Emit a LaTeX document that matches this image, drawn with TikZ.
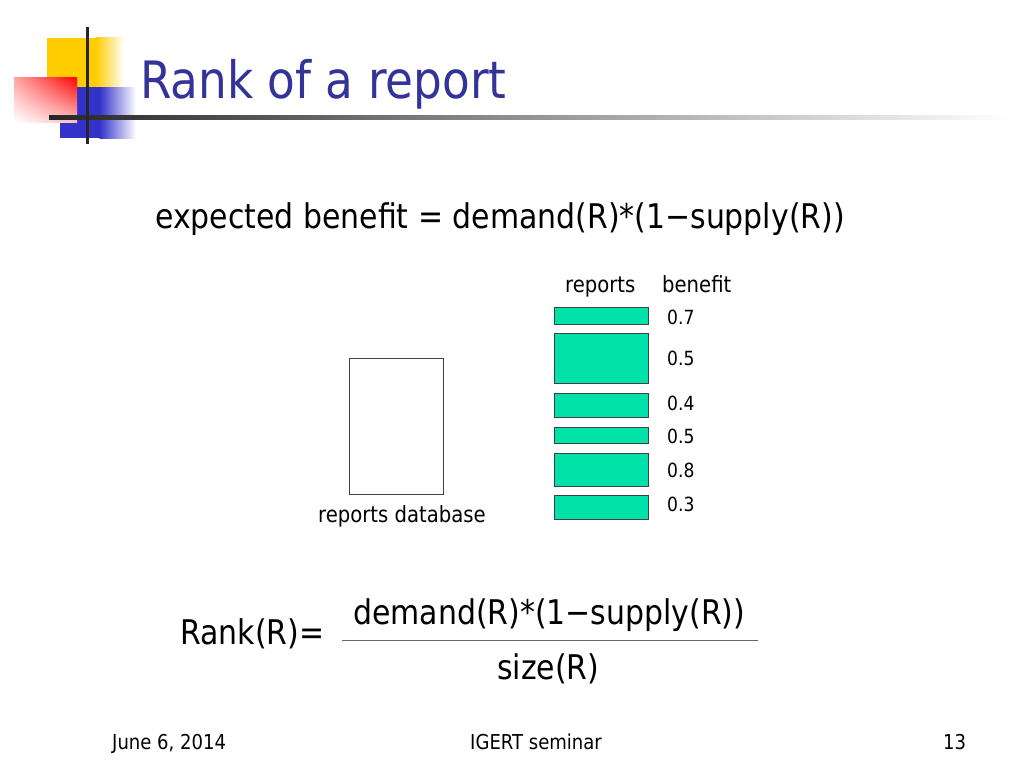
\documentclass[tikz,border=0pt]{standalone}
\usepackage{fontspec}
\usetikzlibrary{shadings}
\setmainfont{DejaVu Sans}[FakeStretch=0.88]
\definecolor{titleblue}{RGB}{51,51,153}
\definecolor{boxfill}{RGB}{0,226,168}
\definecolor{logoyellow}{RGB}{255,204,0}
\definecolor{logoblue}{RGB}{51,51,204}
\begin{document}
\begin{tikzpicture}[x=1pt,y=-1pt,
  txt/.style={inner sep=0pt,anchor=base west},
  rep/.style={draw=black!75,fill=boxfill,line width=0.9pt,inner sep=0pt,minimum width=94pt},
  num/.style={inner sep=0pt,anchor=west,font=\fontsize{19.5}{22}\selectfont},
  small/.style={font=\fontsize{22.3}{26}\selectfont},
  foot/.style={font=\fontsize{20.5}{24}\selectfont},
  big/.style={font=\fontsize{34}{40}\selectfont}]
\useasboundingbox (0,0) rectangle (1024,768);
% logo
\fill[logoyellow] (47,38) rectangle (96,88);
\shade[left color=logoyellow,right color=white] (95.5,38) rectangle (124,88);
\fill[logoblue] (60,87) rectangle (100,138);
\shade[left color=logoblue,right color=white] (99.5,87) rectangle (136,138);
\shade[upper left=red!35,upper right=red,lower left=white,lower right=red!25] (14,77) rectangle (77,122);
\shade[left color=black!85,right color=white] (49,115) rectangle (1010,119);
\fill[black!85] (85.5,27) rectangle (89,144);
% title
\node[txt,font=\fontsize{51.5}{56}\selectfont,text=titleblue] (title) at (140,98) {Rank of a report};
% formula
\node[txt,big] (formula) at (155,228) {expected benefit = demand(R)*(1−supply(R))};
% table
\node[txt,small] (hrep) at (565,292) {reports};
\node[txt,small] (hben) at (662,292) {benefit};
\node[rep,minimum height=17pt] (r1) at (601,315.5) {};
\node[rep,minimum height=50pt] (r2) at (601,358) {};
\node[rep,minimum height=24pt] (r3) at (601,405) {};
\node[rep,minimum height=16pt] (r4) at (601,435) {};
\node[rep,minimum height=33pt] (r5) at (601,469.5) {};
\node[rep,minimum height=24pt] (r6) at (601,507) {};
\node[num] (b1) at (667,317) {0.7};
\node[num] (b2) at (667,358) {0.5};
\node[num] (b3) at (667,403) {0.4};
\node[num] (b4) at (667,436) {0.5};
\node[num] (b5) at (667,470) {0.8};
\node[num] (b6) at (667,504) {0.3};
% database
\node[draw=black!75,line width=0.9pt,minimum width=94pt,minimum height=136pt,inner sep=0pt] (db) at (396.5,426.5) {};
\node[txt,small] (dblabel) at (318,522) {reports database};
% rank
\node[txt,big] (rank) at (180,644) {Rank(R)=};
\node[txt,big] (num) at (353,624) {demand(R)*(1−supply(R))};
\draw[black!60,line width=1pt] (342,640) -- (758,640);
\node[txt,big] (den) at (497,679) {size(R)};
% footer
\node[txt,foot] (f1) at (112,749) {June 6, 2014};
\node[txt,foot] (f2) at (470,749) {IGERT seminar};
\node[txt,foot] (f3) at (943,749) {13};
\end{tikzpicture}
\end{document}
